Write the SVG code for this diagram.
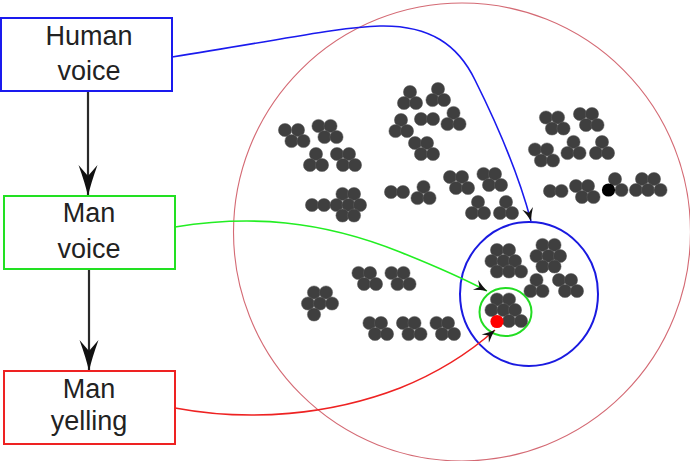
<svg xmlns="http://www.w3.org/2000/svg" width="690" height="461" viewBox="0 0 690 461">
<style>
.box{fill:#fff;stroke-width:2}
.lbl{font-family:"Liberation Sans",Arial,sans-serif;font-size:27px;fill:#222;text-anchor:middle}
.d{fill:#3f3f3f;stroke:#5c5c5c;stroke-width:0.5}
.edge{fill:none;stroke-width:1.6}
</style>
<defs>
<marker id="big" viewBox="-32 -11 33 22" refX="0" refY="0" markerWidth="33" markerHeight="22" orient="auto" markerUnits="userSpaceOnUse">
<path d="M0,0 Q-13,-3 -31,-9.5 L-20,0 L-31,9.5 Q-13,3 0,0Z" fill="#111"/>
</marker>
<marker id="small" viewBox="-14 -6 15 12" refX="0" refY="0" markerWidth="15" markerHeight="12" orient="auto" markerUnits="userSpaceOnUse">
<path d="M0,0 Q-6,-1.8 -13,-5.5 L-8.5,0 L-13,5.5 Q-6,1.8 0,0Z" fill="#111"/>
</marker>
</defs>
<rect width="690" height="461" fill="#fff"/>

<g id="sets">
<ellipse cx="462" cy="232" rx="228.5" ry="229" fill="none" stroke="#d46a74" stroke-width="1.1"/>
<ellipse cx="529" cy="294" rx="69" ry="72" fill="none" stroke="#1a1ae0" stroke-width="2"/>
<ellipse cx="505.5" cy="312" rx="26" ry="24" fill="none" stroke="#22dd22" stroke-width="2"/>
</g>

<g id="dots">
<circle class="d" cx="285" cy="130" r="6.6"/><circle class="d" cx="298" cy="130" r="6.6"/><circle class="d" cx="291.5" cy="141" r="6.6"/><circle class="d" cx="303.5" cy="141" r="6.6"/>
<circle class="d" cx="318.5" cy="126" r="6.6"/><circle class="d" cx="330.5" cy="126" r="6.6"/><circle class="d" cx="324.5" cy="137" r="6.6"/><circle class="d" cx="336.5" cy="137" r="6.6"/>
<circle class="d" cx="316" cy="154" r="6.6"/><circle class="d" cx="310" cy="165" r="6.6"/><circle class="d" cx="322" cy="165" r="6.6"/>
<circle class="d" cx="337" cy="154" r="6.6"/><circle class="d" cx="349" cy="154" r="6.6"/><circle class="d" cx="343" cy="165" r="6.6"/><circle class="d" cx="355" cy="165" r="6.6"/>
<circle class="d" cx="312" cy="205" r="6.6"/><circle class="d" cx="324" cy="205" r="6.6"/><circle class="d" cx="342.5" cy="194" r="6.6"/><circle class="d" cx="354" cy="194" r="6.6"/><circle class="d" cx="336.5" cy="205" r="6.6"/><circle class="d" cx="348.5" cy="205" r="6.6"/><circle class="d" cx="360" cy="205" r="6.6"/><circle class="d" cx="342.5" cy="215.5" r="6.6"/><circle class="d" cx="354" cy="215.5" r="6.6"/>
<circle class="d" cx="410" cy="92" r="6.6"/><circle class="d" cx="404" cy="103" r="6.6"/><circle class="d" cx="416" cy="103" r="6.6"/>
<circle class="d" cx="438" cy="89" r="6.6"/><circle class="d" cx="432.5" cy="100" r="6.6"/><circle class="d" cx="444" cy="100" r="6.6"/>
<circle class="d" cx="421" cy="119" r="6.6"/><circle class="d" cx="433" cy="119" r="6.6"/>
<circle class="d" cx="453.5" cy="113" r="6.6"/><circle class="d" cx="447.5" cy="124" r="6.6"/><circle class="d" cx="459.5" cy="124" r="6.6"/>
<circle class="d" cx="401" cy="120" r="6.6"/><circle class="d" cx="395.5" cy="131" r="6.6"/><circle class="d" cx="407" cy="131" r="6.6"/>
<circle class="d" cx="415" cy="143" r="6.6"/><circle class="d" cx="427" cy="143" r="6.6"/><circle class="d" cx="421" cy="154" r="6.6"/><circle class="d" cx="433" cy="154" r="6.6"/>
<circle class="d" cx="391" cy="192" r="6.6"/><circle class="d" cx="403" cy="192" r="6.6"/>
<circle class="d" cx="423.5" cy="187" r="6.6"/><circle class="d" cx="417.5" cy="198" r="6.6"/><circle class="d" cx="429.5" cy="198" r="6.6"/>
<circle class="d" cx="450" cy="177" r="6.6"/><circle class="d" cx="462" cy="177" r="6.6"/><circle class="d" cx="456" cy="188" r="6.6"/><circle class="d" cx="468" cy="188" r="6.6"/>
<circle class="d" cx="483.5" cy="174" r="6.6"/><circle class="d" cx="495" cy="174" r="6.6"/><circle class="d" cx="489" cy="185" r="6.6"/><circle class="d" cx="501" cy="185" r="6.6"/>
<circle class="d" cx="478" cy="202" r="6.6"/><circle class="d" cx="472" cy="213" r="6.6"/><circle class="d" cx="484" cy="213" r="6.6"/>
<circle class="d" cx="506" cy="202" r="6.6"/><circle class="d" cx="500" cy="213" r="6.6"/><circle class="d" cx="512" cy="213" r="6.6"/>
<circle class="d" cx="546" cy="117.5" r="6.6"/><circle class="d" cx="558" cy="117.5" r="6.6"/><circle class="d" cx="552" cy="128.5" r="6.6"/><circle class="d" cx="563.5" cy="128.5" r="6.6"/>
<circle class="d" cx="580" cy="114" r="6.6"/><circle class="d" cx="592" cy="114" r="6.6"/><circle class="d" cx="586" cy="125" r="6.6"/><circle class="d" cx="597.5" cy="125" r="6.6"/>
<circle class="d" cx="535" cy="149.5" r="6.6"/><circle class="d" cx="547" cy="149.5" r="6.6"/><circle class="d" cx="541" cy="160.5" r="6.6"/><circle class="d" cx="553" cy="160.5" r="6.6"/>
<circle class="d" cx="573.5" cy="142" r="6.6"/><circle class="d" cx="567.5" cy="153" r="6.6"/><circle class="d" cx="579.5" cy="153" r="6.6"/>
<circle class="d" cx="602" cy="142" r="6.6"/><circle class="d" cx="596" cy="153" r="6.6"/><circle class="d" cx="608" cy="153" r="6.6"/>
<circle class="d" cx="550" cy="191" r="6.6"/><circle class="d" cx="561.5" cy="191" r="6.6"/>
<circle class="d" cx="576" cy="186" r="6.6"/><circle class="d" cx="588" cy="186" r="6.6"/><circle class="d" cx="582" cy="197" r="6.6"/><circle class="d" cx="593.5" cy="197" r="6.6"/>
<circle class="d" cx="615" cy="179" r="6.6"/><circle class="d" cx="621.5" cy="190" r="6.6"/><circle cx="608.5" cy="190" r="6.6" fill="#000"/>
<circle class="d" cx="642" cy="179" r="6.6"/><circle class="d" cx="654" cy="179" r="6.6"/><circle class="d" cx="636" cy="190" r="6.6"/><circle class="d" cx="648" cy="190" r="6.6"/><circle class="d" cx="660.5" cy="190" r="6.6"/>
<circle class="d" cx="358.5" cy="273" r="6.6"/><circle class="d" cx="370" cy="273" r="6.6"/><circle class="d" cx="364" cy="284" r="6.6"/><circle class="d" cx="376" cy="284" r="6.6"/>
<circle class="d" cx="391.5" cy="273" r="6.6"/><circle class="d" cx="403.5" cy="273" r="6.6"/><circle class="d" cx="397.5" cy="284" r="6.6"/><circle class="d" cx="409.5" cy="284" r="6.6"/>
<circle class="d" cx="314" cy="292.5" r="6.6"/><circle class="d" cx="326" cy="292.5" r="6.6"/><circle class="d" cx="308" cy="303.5" r="6.6"/><circle class="d" cx="320" cy="303.5" r="6.6"/><circle class="d" cx="332" cy="303.5" r="6.6"/><circle class="d" cx="314" cy="314.5" r="6.6"/>
<circle class="d" cx="369.5" cy="323" r="6.6"/><circle class="d" cx="381" cy="323" r="6.6"/><circle class="d" cx="375" cy="334" r="6.6"/><circle class="d" cx="387" cy="334" r="6.6"/>
<circle class="d" cx="403" cy="323" r="6.6"/><circle class="d" cx="414.5" cy="323" r="6.6"/><circle class="d" cx="408.5" cy="334" r="6.6"/><circle class="d" cx="420.5" cy="334" r="6.6"/>
<circle class="d" cx="436.5" cy="323" r="6.6"/><circle class="d" cx="448" cy="323" r="6.6"/><circle class="d" cx="442" cy="334" r="6.6"/><circle class="d" cx="454" cy="334" r="6.6"/>
<circle class="d" cx="497" cy="250" r="6.6"/><circle class="d" cx="509" cy="250" r="6.6"/><circle class="d" cx="491.5" cy="261" r="6.6"/><circle class="d" cx="503.5" cy="261" r="6.6"/><circle class="d" cx="515" cy="261" r="6.6"/><circle class="d" cx="497" cy="271.5" r="6.6"/><circle class="d" cx="509" cy="271.5" r="6.6"/><circle class="d" cx="521" cy="271.5" r="6.6"/>
<circle class="d" cx="542.5" cy="245" r="6.6"/><circle class="d" cx="554.5" cy="245" r="6.6"/><circle class="d" cx="536.5" cy="256" r="6.6"/><circle class="d" cx="548.5" cy="256" r="6.6"/><circle class="d" cx="560" cy="256" r="6.6"/><circle class="d" cx="542.5" cy="266.5" r="6.6"/><circle class="d" cx="554.5" cy="266.5" r="6.6"/>
<circle class="d" cx="536.5" cy="280" r="6.6"/><circle class="d" cx="530.5" cy="291" r="6.6"/><circle class="d" cx="542.5" cy="291" r="6.6"/>
<circle class="d" cx="559" cy="280" r="6.6"/><circle class="d" cx="571" cy="280" r="6.6"/><circle class="d" cx="565" cy="291" r="6.6"/><circle class="d" cx="577" cy="291" r="6.6"/>
<circle class="d" cx="497" cy="299.5" r="6.6"/><circle class="d" cx="509" cy="299.5" r="6.6"/><circle class="d" cx="491.5" cy="310" r="6.6"/><circle class="d" cx="503.5" cy="310" r="6.6"/><circle class="d" cx="515" cy="310" r="6.6"/><circle class="d" cx="509" cy="321" r="6.6"/><circle class="d" cx="521" cy="321" r="6.6"/>
<circle cx="497" cy="321.5" r="6.6" fill="#ff0000"/>
</g>

<g id="connectors">
<path class="edge" stroke="#1a1aee" d="M172,57 C280,40 340,27 380,26 C430,25 458,45 475,80 C500,130 520,180 531,221" marker-end="url(#small)"/>
<path class="edge" stroke="#22ee22" d="M175,227 C250,215 320,220 400,252 C440,268 470,282 487,291" marker-end="url(#small)"/>
<path class="edge" stroke="#ee2222" d="M175,408 C250,422 330,415 400,388 C440,372 470,352 495,330" marker-end="url(#small)"/>
<line x1="88" y1="92" x2="88" y2="196" stroke="#2a2a2a" stroke-width="2.2" marker-end="url(#big)"/>
<line x1="89" y1="269" x2="89" y2="371" stroke="#2a2a2a" stroke-width="2.2" marker-end="url(#big)"/>
</g>

<g id="human-voice">
<rect class="box" x="1" y="18" width="171" height="73" stroke="#1a1aee"/>
<text class="lbl" x="89" y="45">Human</text>
<text class="lbl" x="89" y="80">voice</text>
</g>
<g id="man-voice">
<rect class="box" x="4" y="196" width="171" height="73" stroke="#22e022"/>
<text class="lbl" x="89" y="222">Man</text>
<text class="lbl" x="89" y="258">voice</text>
</g>
<g id="man-yelling">
<rect class="box" x="4" y="371" width="171" height="73" stroke="#ee2222"/>
<text class="lbl" x="89" y="398">Man</text>
<text class="lbl" x="89" y="430">yelling</text>
</g>
</svg>
